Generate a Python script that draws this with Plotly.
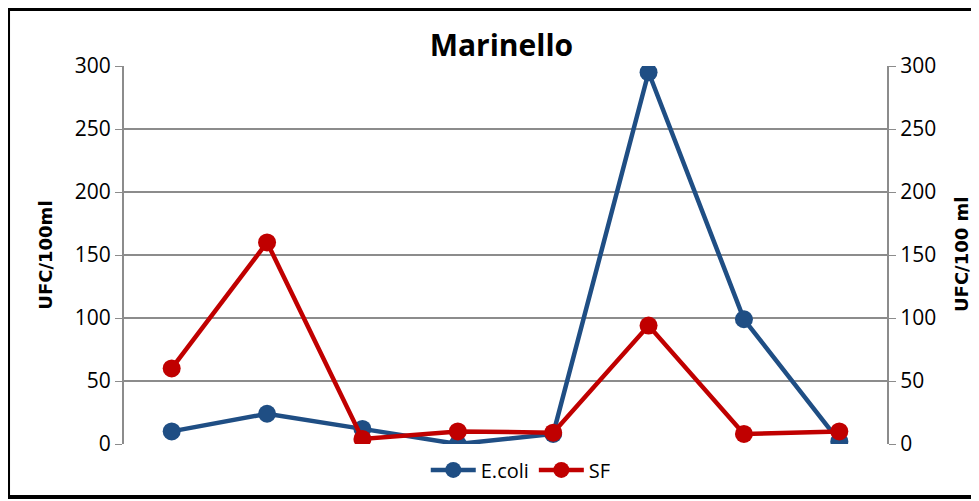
import plotly.graph_objects as go

# sampling points (no labels on the x axis in the original)
points = [1, 2, 3, 4, 5, 6, 7, 8]
ecoli = [10, 24, 12, 0, 8, 295, 99, 2]
sf = [60, 160, 4, 10, 9, 94, 8, 10]
y_ticks = [0, 50, 100, 150, 200, 250, 300]

blue = "#1F4E84"
red = "#C00000"
font = "Open Sans"

fig = go.Figure()
fig.add_trace(go.Scatter(
    x=points, y=ecoli, name="E.coli", mode="lines+markers",
    line=dict(color=blue, width=4.5),
    marker=dict(size=18, color=blue),
))
fig.add_trace(go.Scatter(
    x=points, y=sf, name="SF", mode="lines+markers",
    line=dict(color=red, width=4.5),
    marker=dict(size=18, color=red),
))
# invisible trace just to draw the secondary axis
fig.add_trace(go.Scatter(
    x=points, y=ecoli, yaxis="y2", mode="lines", showlegend=False,
    hoverinfo="skip", line=dict(color="rgba(0,0,0,0)"),
))

axis_common = dict(
    range=[0, 300], tickvals=y_ticks, ticks="outside", ticklen=7,
    tickcolor="#8C8C8C", showline=True, linecolor="#8C8C8C", linewidth=2,
    tickfont=dict(family=font, size=21, color="#000000"),
    zeroline=False,
)

# the page puts the figure 8px in from the top left corner
fig.update_layout(
    width=979, height=501,
    margin=dict(l=116, r=100, t=58, b=65, autoexpand=False),
    paper_bgcolor="white", plot_bgcolor="white",
    font=dict(family=font),
    title=dict(text="<b>Marinello</b>", x=0.504, xanchor="center",
               y=0.925, yanchor="middle",
               font=dict(family=font, size=30, color="#000000")),
    xaxis=dict(range=[0.5, 8.5], showticklabels=False, showgrid=False,
               zeroline=False, showline=False, ticks=""),
    yaxis=dict(showgrid=True, gridcolor="#8C8C8C", gridwidth=2, **axis_common),
    yaxis2=dict(overlaying="y", side="right", showgrid=False, **axis_common),
    legend=dict(orientation="h", x=0.52, xanchor="center",
                yref="container", y=0.078, yanchor="middle",
                bgcolor="rgba(0,0,0,0)", itemwidth=45,
                font=dict(family=font, size=20, color="#000000")),
    showlegend=True,
)

fig.add_annotation(text="<b>UFC/100ml</b>", xref="paper", yref="paper",
                   x=-0.104, y=0.5, xanchor="center", yanchor="middle",
                   textangle=-90, showarrow=False,
                   font=dict(family="DejaVu Sans", size=18, color="#000000"))
fig.add_annotation(text="<b>UFC/100 ml</b>", xref="paper", yref="paper",
                   x=1.097, y=0.5, xanchor="center", yanchor="middle",
                   textangle=-90, showarrow=False,
                   font=dict(family="DejaVu Sans", size=18, color="#000000"))

# outer black frame of the chart
fig.add_shape(type="rect", xref="paper", yref="paper",
              x0=-0.152, x1=1.13, y0=-0.14, y1=1.151,
              line=dict(color="black", width=4))

fig.write_html("out.html")
